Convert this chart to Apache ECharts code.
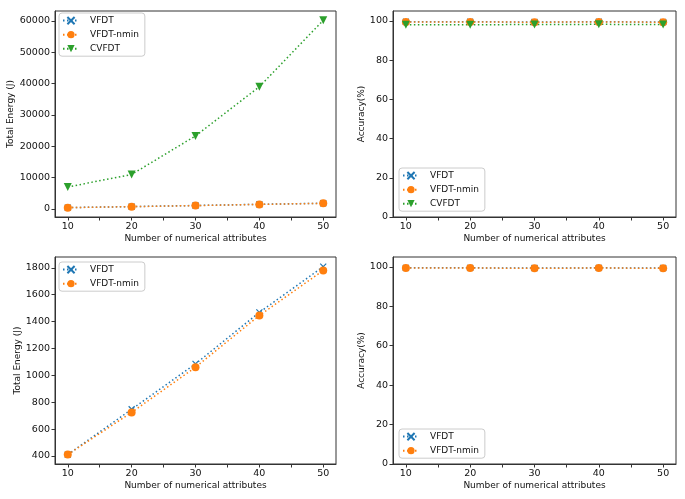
<!DOCTYPE html>
<html><head><meta charset="utf-8">
<script src="https://cdn.jsdelivr.net/npm/echarts@6/dist/echarts.min.js"></script>
<style>html,body{margin:0;padding:0;background:#fff}#c{width:685px;height:499px}</style>
</head><body><div id="c"></div>
<script>
const attrs = [10, 20, 30, 40, 50];
const energyVFDT = [410, 747, 1085, 1468, 1808];
const energyNmin = [410, 724, 1060, 1445, 1780];
const energyCVFDT = [7000, 11000, 23300, 39000, 60200];
const accVFDT = [99.5, 99.5, 99.4, 99.5, 99.4];
const accNmin = [99.4, 99.4, 99.3, 99.4, 99.3];
const accCVFDT = [98.0, 98.0, 98.1, 98.2, 98.1];
const xTicks = [10, 15, 20, 25, 30, 35, 40, 45, 50];
const xLabels = [10, 20, 30, 40, 50];
const energyTicksTop = [0, 10000, 20000, 30000, 40000, 50000, 60000];
const energyTicksBottom = [400, 600, 800, 1000, 1200, 1400, 1600, 1800];
const accTicks = [0, 20, 40, 60, 80, 100];

const FONT = 'DejaVu Sans';
const C = {VFDT: '#1f77b4', 'VFDT-nmin': '#ff7f0e', CVFDT: '#2ca02c'};
const SYM = {VFDT: 'path://M0,0L10,10M10,0L0,10', 'VFDT-nmin': 'circle', CVFDT: 'triangle'};
const SIZE = {VFDT: 6, 'VFDT-nmin': 8, CVFDT: 8};

const grids = [
  {left: 55, top: 11, width: 281, height: 206},
  {left: 393, top: 11, width: 283, height: 206},
  {left: 55, top: 257, width: 281, height: 207},
  {left: 393, top: 257, width: 283, height: 207}
];
const fmt = v => String(v);

function xAxis(i) {
  return {
    gridIndex: i, type: 'value', min: 8, max: 52,
    name: 'Number of numerical attributes', nameLocation: 'middle', nameGap: 17,
    nameTextStyle: {fontFamily: FONT, fontSize: 9, color: '#111'},
    axisLine: {show: true, onZero: false, lineStyle: {color: '#333', width: 1}},
    axisTick: {show: true, length: 3.5, customValues: xTicks, lineStyle: {color: '#333'}},
    axisLabel: {customValues: xLabels, formatter: fmt, fontFamily: FONT, fontSize: 9.5, color: '#111', margin: 5},
    splitLine: {show: false}
  };
}
function yAxis(i, min, max, ticks, name, gap) {
  return {
    gridIndex: i, type: 'value', min: min, max: max,
    name: name, nameLocation: 'middle', nameGap: gap,
    nameTextStyle: {fontFamily: FONT, fontSize: 9, color: '#111'},
    axisLine: {show: true, onZero: false, lineStyle: {color: '#333', width: 1}},
    axisTick: {show: true, length: 3.5, customValues: ticks, lineStyle: {color: '#333'}},
    axisLabel: {customValues: ticks, formatter: fmt, fontFamily: FONT, fontSize: 9.5, color: '#111', margin: 5},
    splitLine: {show: false}
  };
}
function series(name, vals, gi) {
  return {
    name: name, type: 'line', xAxisIndex: gi, yAxisIndex: gi,
    data: attrs.map((x, k) => [x, vals[k]]),
    symbol: SYM[name], symbolSize: SIZE[name], symbolRotate: name === 'CVFDT' ? 180 : 0,
    showAllSymbol: true,
    lineStyle: {color: C[name], width: 1.5, type: [1.5, 2.5]},
    itemStyle: {color: C[name], borderColor: C[name], borderWidth: name === 'VFDT' ? 1.2 : 0},
    emphasis: {disabled: true}, animation: false
  };
}
function legend(left, top, names) {
  return {
    left: left, top: top, orient: 'vertical', data: names,
    itemWidth: 16, itemHeight: 9, itemGap: 5,
    padding: [3, 6, 3, 3],
    backgroundColor: 'rgba(255,255,255,0.8)', borderColor: '#ccc', borderWidth: 1, borderRadius: 3,
    textStyle: {fontFamily: FONT, fontSize: 9, color: '#111', padding: [0, 0, 0, 6]},
    selectedMode: false
  };
}

const chart = echarts.init(document.getElementById('c'), null, {renderer: 'canvas'});
chart.setOption({
  animation: false,
  backgroundColor: '#fff',
  grid: grids.map(g => Object.assign({show: true, borderColor: '#333', borderWidth: 1, backgroundColor: 'transparent'}, g)),
  xAxis: [0, 1, 2, 3].map(xAxis),
  yAxis: [
    yAxis(0, -2580, 63180, energyTicksTop, 'Total Energy (J)', 40),
    yAxis(1, 0, 105, accTicks, 'Accuracy(%)', 27),
    yAxis(2, 340, 1880, energyTicksBottom, 'Total Energy (J)', 32),
    yAxis(3, 0, 105, accTicks, 'Accuracy(%)', 27)
  ],
  legend: [
    legend(59, 13, ['VFDT', 'VFDT-nmin', 'CVFDT']),
    legend(399, 168, ['VFDT', 'VFDT-nmin', 'CVFDT']),
    legend(59, 262, ['VFDT', 'VFDT-nmin']),
    legend(399, 429, ['VFDT', 'VFDT-nmin'])
  ],
  series: [
    series('VFDT', energyVFDT, 0), series('VFDT-nmin', energyNmin, 0), series('CVFDT', energyCVFDT, 0),
    series('VFDT', accVFDT, 1), series('VFDT-nmin', accNmin, 1), series('CVFDT', accCVFDT, 1),
    series('VFDT', energyVFDT, 2), series('VFDT-nmin', energyNmin, 2),
    series('VFDT', accVFDT, 3), series('VFDT-nmin', accNmin, 3)
  ]
});
</script></body></html>
